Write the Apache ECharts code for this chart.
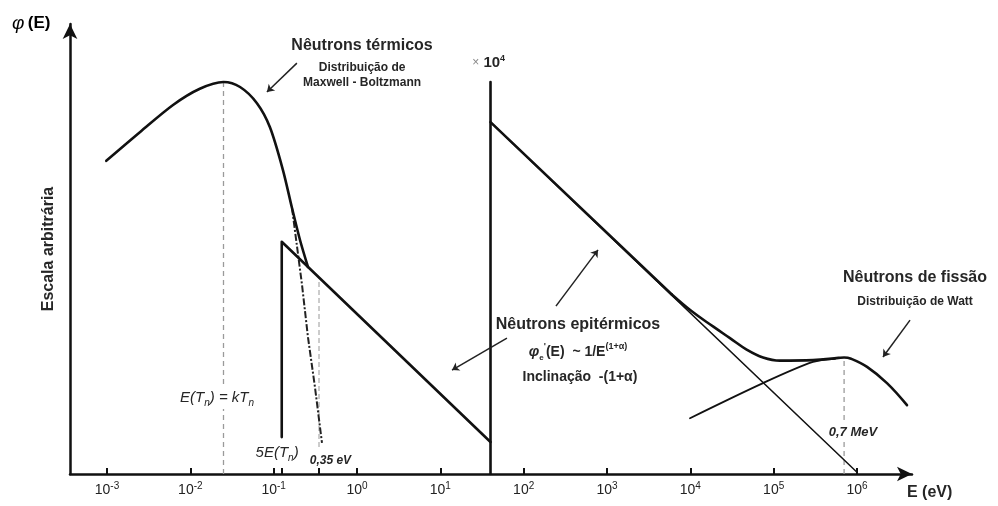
<!DOCTYPE html>
<html>
<head>
<meta charset="utf-8">
<script src="https://cdn.jsdelivr.net/npm/echarts@6/dist/echarts.min.js"></script>
<style>
  html, body { margin: 0; padding: 0; background: #fff; }
  #chart { width: 998px; height: 506px; }
</style>
</head>
<body>
<div id="chart"></div>
<script>
// Neutron flux spectrum: energy E in eV (log axis), flux φ(E) in arbitrary units (0–100)

// Axis tick positions (eV)
const decadeTicks = [1e-3, 1e-2, 1e-1, 1, 10, 1e2, 1e3, 1e4, 1e5, 1e6];
const markerTicks = [0.125, 0.35];

// Thermal region: Maxwell–Boltzmann hump
const thermalE   = [0.00098, 0.0025, 0.0062, 0.013, 0.025, 0.0395, 0.063, 0.09, 0.129, 0.166, 0.207, 0.258];
const thermalPhi = [69.6, 76.0, 82.0, 85.6, 87.1, 86.0, 82.4, 77.1, 67.6, 59.1, 52.0, 46.0];

// Maxwellian tail continued below the epithermal line
const tailE   = [0.166, 0.219, 0.258, 0.313, 0.38];
const tailPhi = [59.1, 42.0, 30.4, 19.3, 6.9];

// Epithermal 1/E slope starting at 5E(Tn), up to the scale break
const epiLowE   = [0.125, 0.125, 40];
const epiLowPhi = [8.2, 51.6, 7.1];

// Scale break (right part is ×10^4)
const breakE   = [40, 40];
const breakPhi = [0, 87.1];

// Epithermal 1/E line on the ×10^4 scale
const epiHighE   = [40, 1e6];
const epiHighPhi = [78.2, 0.4];
const epiHighBoldE   = [40, 6000];
const epiHighBoldPhi = [78.2, 39.9];

// Total flux through the fission peak
const fastE   = [6000, 10500, 18700, 29900, 47900, 74500, 119000, 296000, 600000, 700000, 850000, 1320000, 2290000, 3980000];
const fastPhi = [39.9, 36.1, 32.8, 30.2, 27.6, 25.9, 25.2, 25.3, 25.8, 25.9, 25.6, 23.8, 20.2, 15.3];

// Watt spectrum low-energy side
const wattE   = [9900, 74500, 296000, 545000];
const wattPhi = [12.4, 20.2, 24.9, 25.6];

// Reference energies (eV) with the flux at which each guide line stops
const kTnE = 0.025,  kTnPhi = 87.1;
const cutE = 0.35,   cutLowPhi = 6.0, cutHighPhi = 43.7;
const peakE = 7e5,   peakPhi = 25.9;

const pairs = (xs, ys) => xs.map((x, i) => [x, ys[i]]);

const FONT = "'Liberation Sans', Arial, sans-serif";
const INK = '#111';
const TXT = '#262626';

const rich = {
  h:   { fontFamily: FONT, fontSize: 16, fontWeight: 'bold', color: TXT, lineHeight: 20 },
  s:   { fontFamily: FONT, fontSize: 12, fontWeight: 'bold', color: TXT, lineHeight: 16 },
  m:   { fontFamily: FONT, fontSize: 14, fontWeight: 'bold', color: TXT, lineHeight: 20 },
  mi:  { fontFamily: FONT, fontSize: 15, fontWeight: 'bold', fontStyle: 'italic', color: TXT, lineHeight: 20 },
  msub:{ fontFamily: FONT, fontSize: 8,  fontWeight: 'bold', color: TXT, verticalAlign: 'bottom' },
  msup:{ fontFamily: FONT, fontSize: 9,  fontWeight: 'bold', color: TXT, verticalAlign: 'top' },
  it:  { fontFamily: FONT, fontSize: 15, fontStyle: 'italic', color: TXT, lineHeight: 20 },
  isub:{ fontFamily: FONT, fontSize: 10, fontStyle: 'italic', color: TXT, verticalAlign: 'bottom' },
  sm:  { fontFamily: FONT, fontSize: 12, fontStyle: 'italic', fontWeight: 'bold', color: TXT, lineHeight: 14 },
  smb: { fontFamily: FONT, fontSize: 13, fontStyle: 'italic', fontWeight: 'bold', color: TXT, lineHeight: 16 },
  x:   { fontFamily: FONT, fontSize: 12, color: '#888', lineHeight: 18 },
  xb:  { fontFamily: FONT, fontSize: 15, fontWeight: 'bold', color: TXT, lineHeight: 18 },
  xs:  { fontFamily: FONT, fontSize: 9,  fontWeight: 'bold', color: TXT, verticalAlign: 'top' }
};

// Text annotations placed in data space [E, φ]
const notes = [
  { at: [1.15, 95.1],  text: '{h|Nêutrons térmicos}' },
  { at: [1.15, 90.4],  text: '{s|Distribuição de}' },
  { at: [1.15, 86.9],  text: '{s|Maxwell - Boltzmann}' },
  { at: [38, 91.3],    text: '{x|×}{xb| 10}{xs|4}' },
  { at: [449, 33.1],   text: '{h|Nêutrons epitérmicos}' },
  { at: [449, 27.1],   text: '{mi|φ}{msub|e}{msup|\'}{m|(E)  ~ 1/E}{msup|(1+α)}' },
  { at: [474, 21.6],   text: '{m|Inclinação  -(1+α)}' },
  { at: [4.97e6, 43.6],text: '{h|Nêutrons de fissão}' },
  { at: [4.97e6, 38.2],text: '{s|Distribuição de Watt}' },
  { at: [8.95e5, 9.3], text: '{smb|0,7 MeV}', bg: true },
  { at: [0.0209, 16.9],text: '{it|E(T}{isub|n}{it|) = kT}{isub|n}', bg: true },
  { at: [0.11, 4.7],   text: '{it|5E(T}{isub|n}{it|)}' },
  { at: [0.48, 3.0],   text: '{sm|0,35 eV}' }
];

// Pointer arrows [from, to] in data space
const pointers = [
  [[0.19, 91.3], [0.083, 84.9]],
  [[63, 30.2], [13.8, 23.1]],
  [[244, 37.3], [780, 49.8]],
  [[4.33e6, 34.2], [2.05e6, 26.0]]
];

function solid(name, data, width, smooth) {
  return {
    name, type: 'line', data, showSymbol: false, symbol: 'none',
    smooth: smooth || false, silent: true, z: 3,
    lineStyle: { color: INK, width, cap: 'round', join: 'round' }
  };
}
function dashed(name, data, color, width, dash) {
  return {
    name, type: 'line', data, showSymbol: false, symbol: 'none', silent: true, z: 2,
    lineStyle: { color, width, type: dash }
  };
}

const chart = echarts.init(document.getElementById('chart'), null, { renderer: 'canvas' });

chart.setOption({
  animation: false,
  backgroundColor: '#fff',
  grid: { left: 70, right: 86, top: 24, bottom: 32, containLabel: false, outerBoundsMode: 'none' },
  xAxis: {
    type: 'log', logBase: 10,
    min: Math.pow(10, -3.444), max: Math.pow(10, 6.66),
    axisLine: { show: true, onZero: false, symbol: ['none', 'arrow'], symbolSize: [11, 15],
                lineStyle: { color: INK, width: 2.5 } },
    axisTick: { show: true, inside: true, length: 6, customValues: decadeTicks.concat(markerTicks),
                lineStyle: { color: INK, width: 2 } },
    axisLabel: {
      show: true, margin: 7, customValues: decadeTicks,
      formatter: v => '{b|10}{p|' + Math.round(Math.log10(v)) + '}',
      rich: {
        b: { fontFamily: FONT, fontSize: 14, color: '#222', lineHeight: 18 },
        p: { fontFamily: FONT, fontSize: 10, color: '#222', verticalAlign: 'top' }
      }
    },
    splitLine: { show: false },
    minorTick: { show: false }
  },
  yAxis: {
    type: 'value', min: 0, max: 100,
    axisLine: { show: true, onZero: false, symbol: ['none', 'arrow'], symbolSize: [11, 15],
                lineStyle: { color: INK, width: 2.5 } },
    axisTick: { show: false }, axisLabel: { show: false }, splitLine: { show: false },
    name: 'Escala arbitrária', nameLocation: 'middle', nameRotate: 90, nameGap: 13,
    nameTextStyle: { fontFamily: FONT, fontSize: 16, fontWeight: 'bold', color: TXT }
  },
  graphic: [
    { type: 'text', left: 12, top: 14, silent: true,
      style: { text: '{a|φ} {b|(E)}', rich: {
        a: { fontFamily: FONT, fontSize: 19, fontStyle: 'italic', color: TXT },
        b: { fontFamily: FONT, fontSize: 17, fontWeight: 'bold', color: TXT } } } },
    { type: 'text', left: 907, top: 485, silent: true,
      style: { text: 'E (eV)', fontFamily: FONT, fontSize: 16, fontWeight: 'bold', fill: TXT } }
  ],
  series: [
    dashed('kTn', [[kTnE, 0], [kTnE, kTnPhi]], '#9a9a9a', 1.3, [5, 4]),
    dashed('cut', [[cutE, cutLowPhi], [cutE, cutHighPhi]], '#b0b0b0', 1.3, [5, 3]),
    dashed('peak', [[peakE, 0], [peakE, peakPhi]], '#9a9a9a', 1.3, [5, 4]),
    dashed('tail', pairs(tailE, tailPhi), '#222', 2, [7, 2, 2, 2]),
    solid('thermal', pairs(thermalE, thermalPhi), 2.6, 0.3),
    solid('epiLow', pairs(epiLowE, epiLowPhi), 2.6),
    solid('break', pairs(breakE, breakPhi), 2.6),
    solid('epiHigh', pairs(epiHighE, epiHighPhi), 1.5),
    solid('epiHighBold', pairs(epiHighBoldE, epiHighBoldPhi), 2.6),
    solid('fast', pairs(fastE, fastPhi), 2.6, 0.4),
    solid('watt', pairs(wattE, wattPhi), 1.8, 0.3),
    {
      name: 'notes', type: 'scatter', silent: true, z: 5, clip: false,
      symbolSize: 1, itemStyle: { color: 'rgba(0,0,0,0)', opacity: 1 },
      data: notes.map(n => ({
        value: n.at,
        label: {
          show: true, position: 'inside', align: 'center', verticalAlign: 'middle',
          formatter: n.text, rich, opacity: 1, textBorderWidth: 0,
          backgroundColor: n.bg ? '#fff' : 'transparent', padding: n.bg ? [1, 2] : 0
        }
      })),
      labelLayout: { hideOverlap: false },
      markLine: {
        silent: true, animation: false,
        symbol: ['none', 'arrow'], symbolSize: 7,
        label: { show: false },
        lineStyle: { color: '#222', width: 1.5, type: 'solid', opacity: 1 },
        data: pointers.map(p => [{ coord: p[0] }, { coord: p[1] }])
      }
    }
  ]
});
</script>
</body>
</html>
